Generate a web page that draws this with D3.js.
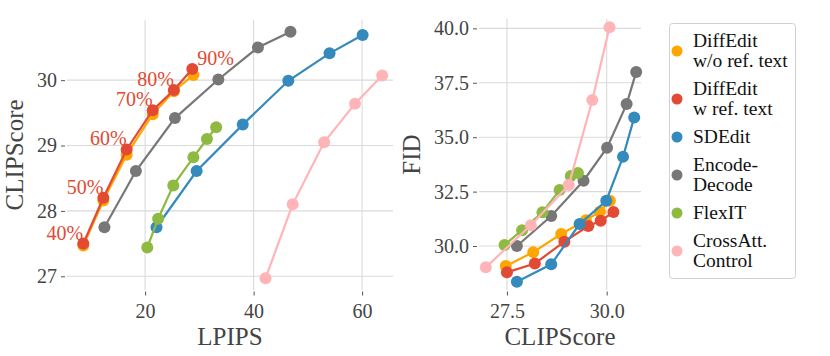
<!DOCTYPE html>
<html>
<head>
<meta charset="utf-8">
<script src="https://cdnjs.cloudflare.com/ajax/libs/d3/7.8.5/d3.min.js"></script>
<style>
  body { margin: 0; background: #fff; }
  svg text { font-family: "Liberation Serif", "DejaVu Serif", serif; }
  .tick text { fill: #444; }
  .tick line { stroke: #555; }
</style>
</head>
<body>
<div id="chart"></div>
<script>
// methods, in legend order
const methods = ["DiffEdit w/o ref. text", "DiffEdit w ref. text", "SDEdit", "Encode-Decode", "FlexIT", "CrossAtt. Control"];
const legendLines = [["DiffEdit", "w/o ref. text"], ["DiffEdit", "w ref. text"], ["SDEdit"], ["Encode-", "Decode"], ["FlexIT"], ["CrossAtt.", "Control"]];
const colors = ["#FFA500", "#E24A33", "#348ABD", "#777777", "#8EBA42", "#FFB5B8"];

// LPIPS per method
const lpips = [
  [8.6, 12.3, 16.6, 21.4, 25.3, 28.9],
  [8.6, 12.3, 16.6, 21.4, 25.3, 28.7],
  [22.1, 29.5, 38.0, 46.4, 54.0, 60.1],
  [12.5, 18.3, 25.5, 33.5, 40.8, 46.8],
  [20.4, 22.4, 25.2, 28.9, 31.4, 33.1],
  [42.2, 47.2, 53.0, 58.7, 63.7]
];
// CLIPScore per method
const clip = [
  [27.47, 28.16, 28.86, 29.48, 29.83, 30.08],
  [27.50, 28.20, 28.94, 29.54, 29.85, 30.17],
  [27.75, 28.61, 29.32, 29.99, 30.41, 30.69],
  [27.75, 28.61, 29.42, 30.01, 30.50, 30.74],
  [27.44, 27.88, 28.39, 28.82, 29.10, 29.28],
  [26.97, 28.10, 29.05, 29.64, 30.07]
];
// FID per method
const fid = [
  [29.08, 29.72, 30.55, 31.19, 31.58, 32.08],
  [28.79, 29.20, 30.20, 30.92, 31.16, 31.56],
  [28.36, 29.16, 31.01, 32.08, 34.10, 35.91],
  [30.00, 31.38, 33.00, 34.52, 36.52, 38.00],
  [30.05, 30.73, 31.55, 32.57, 33.22, 33.35],
  [29.02, 30.96, 32.80, 36.71, 40.05]
];
// labels on DiffEdit w ref. text (left panel)
const pctLabels = ["40%", "50%", "60%", "70%", "80%", "90%"];

const lpipsTicks = [20, 40, 60];
const clipTicksL = [27, 28, 29, 30];
const clipTicksR = [27.5, 30.0];
const fidTicks = [30.0, 32.5, 35.0, 37.5, 40.0];

const W = 830, H = 356;
const svg = d3.select("#chart").append("svg").attr("width", W).attr("height", H);

const gridColor = "#dadada";
const serif = '"Liberation Serif", "DejaVu Serif", serif';
const tickFont = "20px", labelFont = "25px";

function panel(x, y, xTicks, yTicks, xFmt, yFmt, xLabel, yLabel, yLabelX) {
  const [x0, x1] = x.range(), [y0, y1] = y.range();
  const g = svg.append("g");
  // grid
  g.selectAll(".vg").data(xTicks).enter().append("line")
    .attr("x1", d => x(d)).attr("x2", d => x(d)).attr("y1", y1).attr("y2", y0)
    .attr("stroke", gridColor).attr("stroke-width", 1.1);
  g.selectAll(".hg").data(yTicks).enter().append("line")
    .attr("x1", x0).attr("x2", x1).attr("y1", d => y(d)).attr("y2", d => y(d))
    .attr("stroke", gridColor).attr("stroke-width", 1.1);

  const ax = g.append("g").attr("transform", "translate(0," + (y0 + 1.5) + ")")
    .call(d3.axisBottom(x).tickValues(xTicks).tickFormat(xFmt).tickSize(4).tickPadding(8))
    .attr("font-family", null).attr("font-size", null);
  ax.select(".domain").remove();
  ax.selectAll("text").style("font-size", tickFont).style("font-family", serif);

  const ay = g.append("g").attr("transform", "translate(" + (x0 - 2) + ",0)")
    .call(d3.axisLeft(y).tickValues(yTicks).tickFormat(yFmt).tickSize(4).tickPadding(4))
    .attr("font-family", null).attr("font-size", null);
  ay.select(".domain").remove();
  ay.selectAll("text").style("font-size", tickFont).style("font-family", serif);

  g.append("text").attr("x", (x0 + x1) / 2).attr("y", 345)
    .attr("text-anchor", "middle").attr("fill", "#444").style("font-size", labelFont).text(xLabel);
  g.append("text").attr("transform", "translate(" + yLabelX + "," + ((y0 + y1) / 2) + ") rotate(-90)")
    .attr("text-anchor", "middle").attr("fill", "#444").style("font-size", labelFont).text(yLabel);
  return g;
}

function drawSeries(g, x, y, xs, ys) {
  methods.forEach(function (m, i) {
    const pts = xs[i].map((v, j) => [v, ys[i][j]]);
    g.append("path").datum(pts)
      .attr("fill", "none").attr("stroke", colors[i]).attr("stroke-width", 2.2)
      .attr("d", d3.line().x(d => x(d[0])).y(d => y(d[1])));
    g.selectAll(".pt" + i).data(pts).enter().append("circle")
      .attr("cx", d => x(d[0])).attr("cy", d => y(d[1])).attr("r", 6)
      .attr("fill", colors[i]);
  });
}

// left panel: LPIPS vs CLIPScore
const xL = d3.scaleLinear().domain([5.6, 65.7]).range([67, 393]);
const yL = d3.scaleLinear().domain([26.79, 30.92]).range([290, 20]);
const gL = panel(xL, yL, lpipsTicks, clipTicksL, d3.format("d"), d3.format("d"), "LPIPS", "CLIPScore", 23);
drawSeries(gL, xL, yL, lpips, clip);

pctLabels.forEach(function (t, j) {
  const px = xL(lpips[1][j]), py = yL(clip[1][j]);
  const last = j === pctLabels.length - 1;
  gL.append("text")
    .attr("x", last ? px + 5 : px)
    .attr("y", py - 4)
    .attr("text-anchor", last ? "start" : "end")
    .attr("fill", colors[1]).style("font-size", tickFont).style("font-family", serif)
    .text(t);
});

// right panel: CLIPScore vs FID
const xR = d3.scaleLinear().domain([26.80, 30.86]).range([479, 641]);
const yR = d3.scaleLinear().domain([27.98, 40.43]).range([290, 19]);
const gR = panel(xR, yR, clipTicksR, fidTicks, d3.format(".1f"), d3.format(".1f"), "CLIPScore", "FID", 420);
drawSeries(gR, xR, yR, clip, fid);

// legend
const leg = svg.append("g");
leg.append("rect").attr("x", 669.5).attr("y", 23.5).attr("width", 126).attr("height", 255)
  .attr("rx", 3).attr("fill", "#fff").attr("stroke", "#d0d0d0");
let cursor = 31;
legendLines.forEach(function (lines, i) {
  const n = lines.length;
  const cy = cursor + n * 10;
  leg.append("circle").attr("cx", 677).attr("cy", cy).attr("r", 5.5).attr("fill", colors[i]);
  lines.forEach(function (ln, k) {
    leg.append("text").attr("x", 693).attr("y", cy + (k - (n - 1) / 2) * 20 + 5.5)
      .attr("fill", "#111").style("font-size", "19.5px").text(ln);
  });
  cursor += n * 20 + 8;
});
</script>
</body>
</html>
